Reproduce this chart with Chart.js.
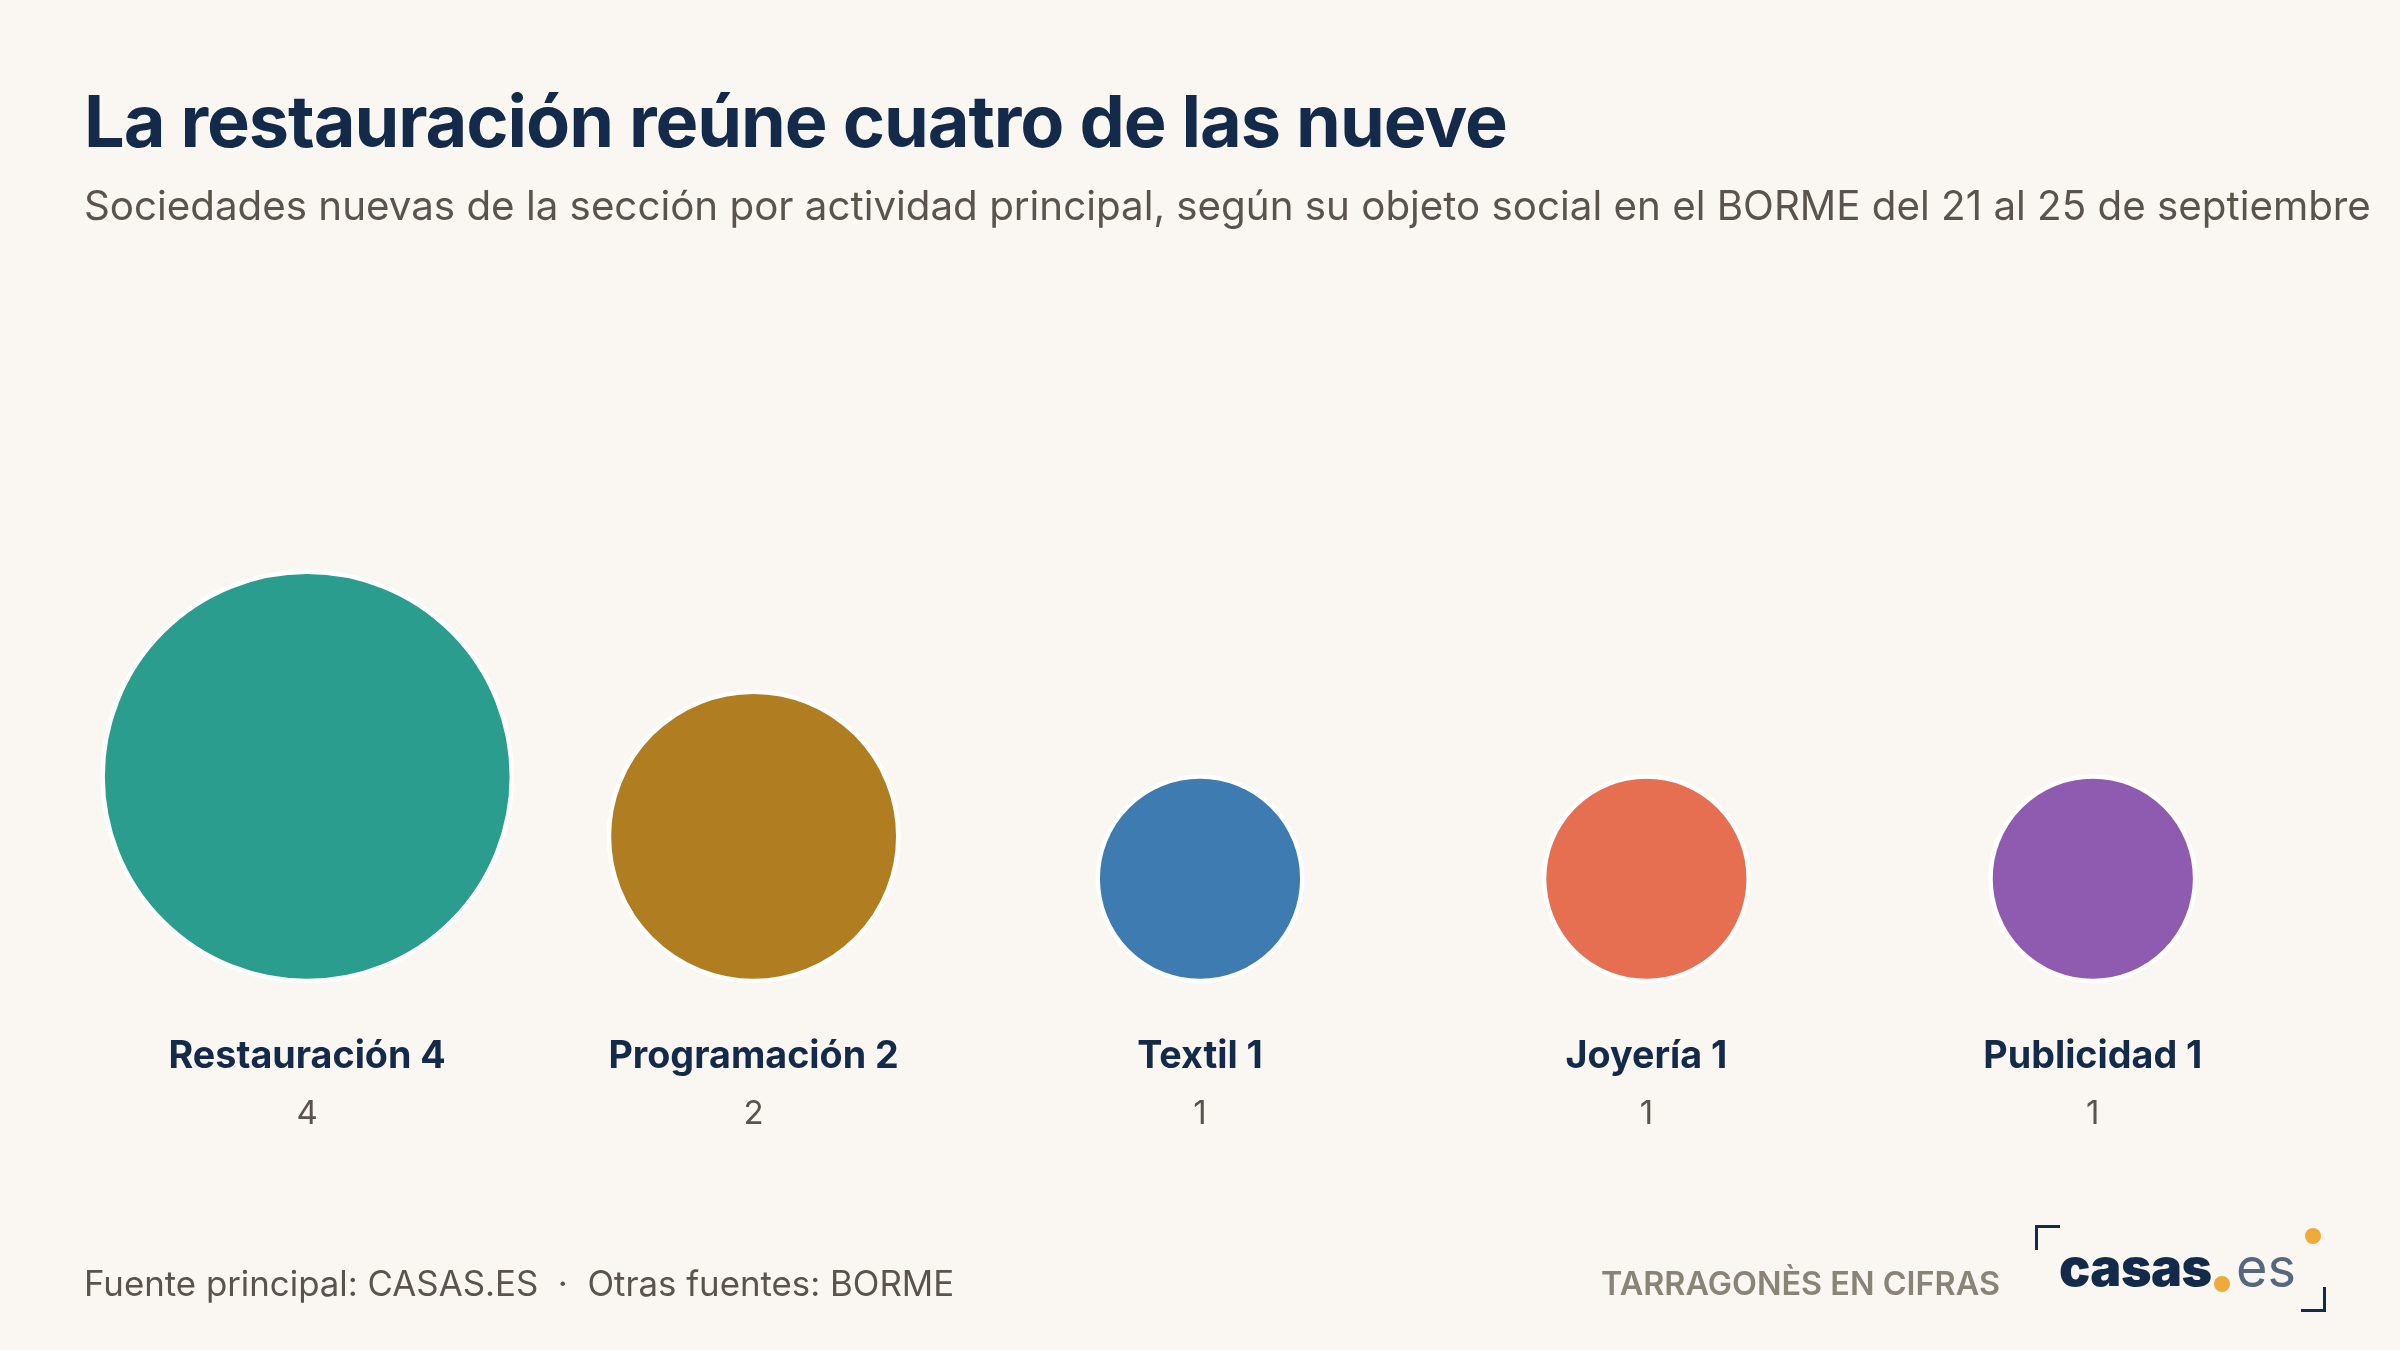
<!DOCTYPE html>
<html lang="es">
<head>
<meta charset="utf-8">
<script src="https://cdn.jsdelivr.net/npm/chart.js@4"></script>
<style>
  html, body { margin:0; padding:0; background:#faf7f2; }
  #wrap { position:relative; width:2400px; height:1350px; overflow:hidden; background:#faf7f2; font-family:Inter, "Noto Sans", sans-serif; }
  canvas#c { position:absolute; left:0; top:0; }
  .t { position:absolute; line-height:1; white-space:nowrap; }
  #title { left:84px; top:85px; font-size:72px; font-weight:700; color:#132a4a; letter-spacing:-1.05px; }
  #subtitle { left:84px; top:186px; font-size:40.3px; font-weight:400; color:#5a544c; }
  #source { left:84px; top:1266px; font-size:34.8px; font-weight:400; color:#5a544c; }
  #brand { right:400px; top:1268px; font-size:32.4px; font-weight:600; color:#8a8478; }
  #casas { left:2059px; top:1242px; font-size:52px; font-weight:900; color:#132a4a; letter-spacing:-0.5px; }
  #es { left:2236px; top:1241px; font-size:54px; font-weight:400; color:#56677e; }
  .dot { position:absolute; width:16px; height:16px; border-radius:50%; background:#f0a93b; }
  .br { position:absolute; width:22px; height:22px; border-color:#132a4a; border-style:solid; border-width:0; }
</style>
</head>
<body>
<div id="wrap">
  <canvas id="c" width="2400" height="1350"></canvas>
  <div class="t" id="title">La restauración reúne cuatro de las nueve</div>
  <div class="t" id="subtitle">Sociedades nuevas de la sección por actividad principal, según su objeto social en el BORME del 21 al 25 de septiembre</div>
  <div class="t" id="source">Fuente principal: CASAS.ES&nbsp;&nbsp;·&nbsp;&nbsp;Otras fuentes: BORME</div>
  <div class="t" id="brand">TARRAGONÈS EN CIFRAS</div>
  <div class="br" style="left:2035px; top:1225px; border-top-width:3px; border-left-width:3px;"></div>
  <div class="br" style="left:2301px; top:1287px; border-bottom-width:3px; border-right-width:3px;"></div>
  <div class="t" id="casas">casas</div>
  <div class="dot" style="left:2214px; top:1276px;"></div>
  <div class="t" id="es">es</div>
  <div class="dot" style="left:2305px; top:1228px;"></div>
</div>
<script>
// ---- Data ----
const categories = ['Restauración', 'Programación', 'Textil', 'Joyería', 'Publicidad'];
const values = [4, 2, 1, 1, 1];
const valueLabels = ['4', '2', '1', '1', '1'];
const colors = ['#2a9d8f', '#b07d20', '#3e7bb1', '#e76f51', '#8e5bb0'];

// ---- Styling / sizing ----
const RADIUS_PER_SQRT = 102.3;   // px of radius for a value of 1 (area proportional to value)
const PAD = { left: 84, right: 84, top: 250, bottom: 369 };
const PLOT_H = 1350 - PAD.top - PAD.bottom;

function radiusOf(v) { return RADIUS_PER_SQRT * Math.sqrt(v); }

// bubbles sit on a common baseline: y (in px units of the y scale) equals the radius
const bubbleData = values.map((v, i) => ({ x: i, y: radiusOf(v), r: radiusOf(v) }));

const labelPlugin = {
  id: 'bubbleLabels',
  afterDatasetsDraw(chart) {
    const { ctx, chartArea } = chart;
    const xs = chart.scales.x;
    ctx.save();
    ctx.textAlign = 'center';
    ctx.textBaseline = 'alphabetic';
    categories.forEach((cat, i) => {
      const x = xs.getPixelForValue(i);
      ctx.font = '700 37.7px Inter';
      ctx.fillStyle = '#132a4a';
      ctx.fillText(cat + ' ' + valueLabels[i], x, chartArea.bottom + 87);
      ctx.font = '400 33px Inter';
      ctx.fillStyle = '#5a544c';
      ctx.fillText(valueLabels[i], x, chartArea.bottom + 143);
    });
    ctx.restore();
  }
};

function build() {
  new Chart(document.getElementById('c'), {
    type: 'bubble',
    data: {
      labels: categories,
      datasets: [{
        data: bubbleData,
        backgroundColor: colors,
        borderColor: '#ffffff',
        borderWidth: 4.5,
        hoverBorderWidth: 4.5,
        clip: false
      }]
    },
    options: {
      responsive: false,
      animation: false,
      devicePixelRatio: 1,
      layout: { padding: PAD, autoPadding: false },
      events: [],
      scales: {
        x: { type: 'linear', min: -0.5, max: categories.length - 0.5, display: false },
        y: { type: 'linear', min: 0, max: PLOT_H, display: false }
      },
      plugins: { legend: { display: false }, tooltip: { enabled: false } }
    },
    plugins: [labelPlugin]
  });
}

Promise.all([
  document.fonts.load('700 38px Inter'),
  document.fonts.load('400 33px Inter')
]).then(build, build);
</script>
</body>
</html>
